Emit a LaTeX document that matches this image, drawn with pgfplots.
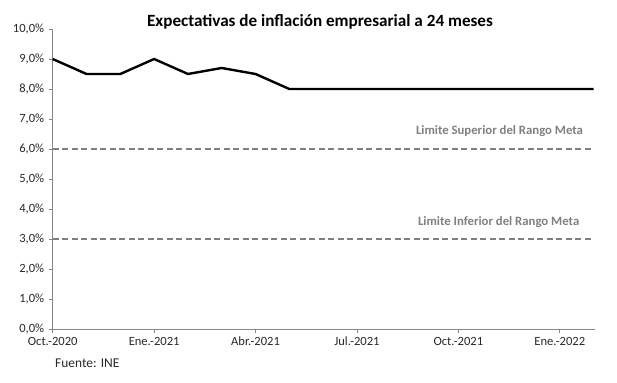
\documentclass[border=0pt]{standalone}
\usepackage{pgfplots}
\pgfplotsset{compat=1.18}
\usepackage{fontspec}
\setmainfont{Carlito}
\definecolor{axgray}{RGB}{134,134,134}
\definecolor{refgray}{RGB}{128,128,128}
\definecolor{txt}{RGB}{40,40,40}
\begin{document}
\begin{tikzpicture}
\path[use as bounding box] (-52.7bp,-54bp) rectangle (564.3bp,329bp);
\begin{axis}[
  at={(0,0)}, anchor=south west,
  scale only axis, width=542.6bp, height=300bp,
  xmin=0, xmax=16.05, ymin=0, ymax=10,
  axis x line*=bottom, axis y line*=left,
  axis line style={axgray, line width=1bp},
  tick align=outside, major tick length=4bp,
  tick style={axgray, line width=0.8bp},
  xtick={0,3,6,9,12,15},
  xticklabels={Oct.-2020, Ene.-2021, Abr.-2021, Jul.-2021, Oct.-2021, Ene.-2022},
  ytick={0,1,2,3,4,5,6,7,8,9,10},
  yticklabels={{0,0\%},{1,0\%},{2,0\%},{3,0\%},{4,0\%},{5,0\%},{6,0\%},{7,0\%},{8,0\%},{9,0\%},{10,0\%}},
  ticklabel style={font=\fontsize{12.6}{14}\selectfont, text=txt},
  xticklabel style={yshift=-0.5bp},
  yticklabel style={xshift=-1bp},
  clip=false,
]
\addplot[refgray, line width=1.8bp, dash pattern=on 6bp off 3.5bp] coordinates {(0,6) (16,6)};
\addplot[refgray, line width=1.8bp, dash pattern=on 6bp off 3.5bp] coordinates {(0,3) (16,3)};
\addplot[black, line width=2.4bp, line join=round] coordinates {
(0,9.0) (1,8.5) (2,8.5) (3,9.0) (4,8.5) (5,8.7) (6,8.5) (7,8.0) (8,8.0) (9,8.0) (10,8.0) (11,8.0) (12,8.0) (13,8.0) (14,8.0) (15,8.0) (16,8.0)};
\node[anchor=base east, font=\bfseries\fontsize{12.8}{14}\selectfont, text=refgray] at (axis cs:15.79,6.47) {Limite Superior del Rango Meta};
\node[anchor=base east, font=\bfseries\fontsize{12.8}{14}\selectfont, text=refgray] at (axis cs:15.68,3.44) {Limite Inferior del Rango Meta};
\end{axis}
\node[anchor=base, font=\bfseries\fontsize{17.2}{20}\selectfont] at (267.3bp,302.5bp) {Expectativas de inflación empresarial a 24 meses};
\node[anchor=base west, inner sep=0pt, font=\fontsize{13.5}{15}\selectfont, text=txt] at (2.3bp,-38bp) {Fuente: INE};
\end{tikzpicture}
\end{document}
